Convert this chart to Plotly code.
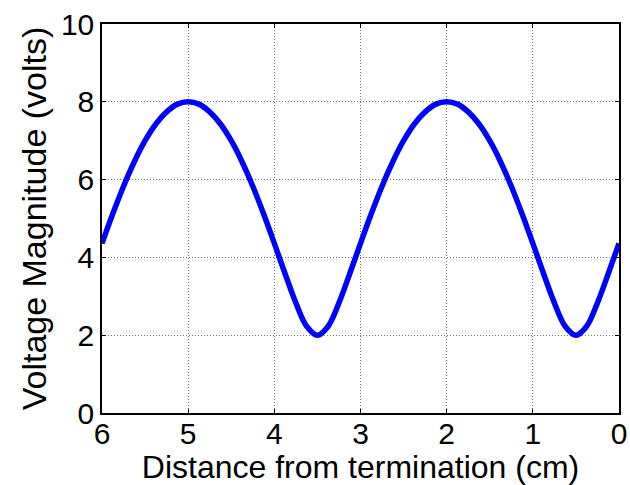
import plotly.graph_objects as go

# distance from termination (cm)
distance_cm = [0.0, 0.125, 0.25, 0.375, 0.5, 0.625, 0.75, 0.875, 1.0, 1.125, 1.25, 1.375,
               1.5, 1.625, 1.75, 1.875, 2.0, 2.125, 2.25, 2.375, 2.5, 2.625, 2.75, 2.875,
               3.0, 3.125, 3.25, 3.375, 3.5, 3.625, 3.75, 3.875, 4.0, 4.125, 4.25, 4.375,
               4.5, 4.625, 4.75, 4.875, 5.0, 5.125, 5.25, 5.375, 5.5, 5.625, 5.75, 5.875, 6.0]
# voltage magnitude (volts)
voltage_mag = [4.36, 3.58, 2.83, 2.23, 2.00, 2.23, 2.83, 3.58, 4.36, 5.12, 5.83, 6.46,
               7.00, 7.43, 7.74, 7.94, 8.00, 7.94, 7.74, 7.43, 7.00, 6.46, 5.83, 5.12,
               4.36, 3.58, 2.83, 2.23, 2.00, 2.23, 2.83, 3.58, 4.36, 5.12, 5.83, 6.46,
               7.00, 7.43, 7.74, 7.94, 8.00, 7.94, 7.74, 7.43, 7.00, 6.46, 5.83, 5.12, 4.36]

x_ticks = [0, 1, 2, 3, 4, 5, 6]
y_ticks = [0, 2, 4, 6, 8, 10]

fig = go.Figure()
fig.add_trace(go.Scatter(x=distance_cm, y=voltage_mag, mode="lines",
                         line=dict(color="#0000FF", width=5.5, shape="spline"),
                         showlegend=False))

font = "Liberation Sans, Arial, Helvetica, sans-serif"
common = dict(showgrid=True, gridcolor="rgba(0,0,0,0.55)", gridwidth=1, griddash="1px,2px",
              showline=True, linecolor="black", linewidth=1.5, mirror="ticks",
              ticks="inside", ticklen=4, tickcolor="black", zeroline=False,
              automargin=False,
              tickfont=dict(family=font, size=30, color="black"))

fig.update_layout(
    width=630, height=485,
    margin=dict(l=102, r=11, t=24, b=72),
    paper_bgcolor="white", plot_bgcolor="white",
    font=dict(family=font, color="black"),
    xaxis=dict(range=[6, 0], tickvals=x_ticks, ticktext=[str(v) for v in x_ticks],
               ticklabelstandoff=-7,
               title=dict(text="Distance from termination (cm)", font=dict(size=32), standoff=2),
               **common),
    yaxis=dict(range=[0, 10], tickvals=y_ticks, ticktext=[str(v) for v in y_ticks],
               ticklabelstandoff=0,
               title=dict(text="Voltage Magnitude (volts)", font=dict(size=34), standoff=4),
               **common),
)
fig.write_html("out.html", config={"displayModeBar": False})

# remove the browser's default page margin so the figure sits at the window's origin
with open("out.html", encoding="utf-8") as f:
    html = f.read()
html = html.replace("<head>", "<head><style>html,body{margin:0;padding:0;overflow:hidden}</style>", 1)
with open("out.html", "w", encoding="utf-8") as f:
    f.write(html)
